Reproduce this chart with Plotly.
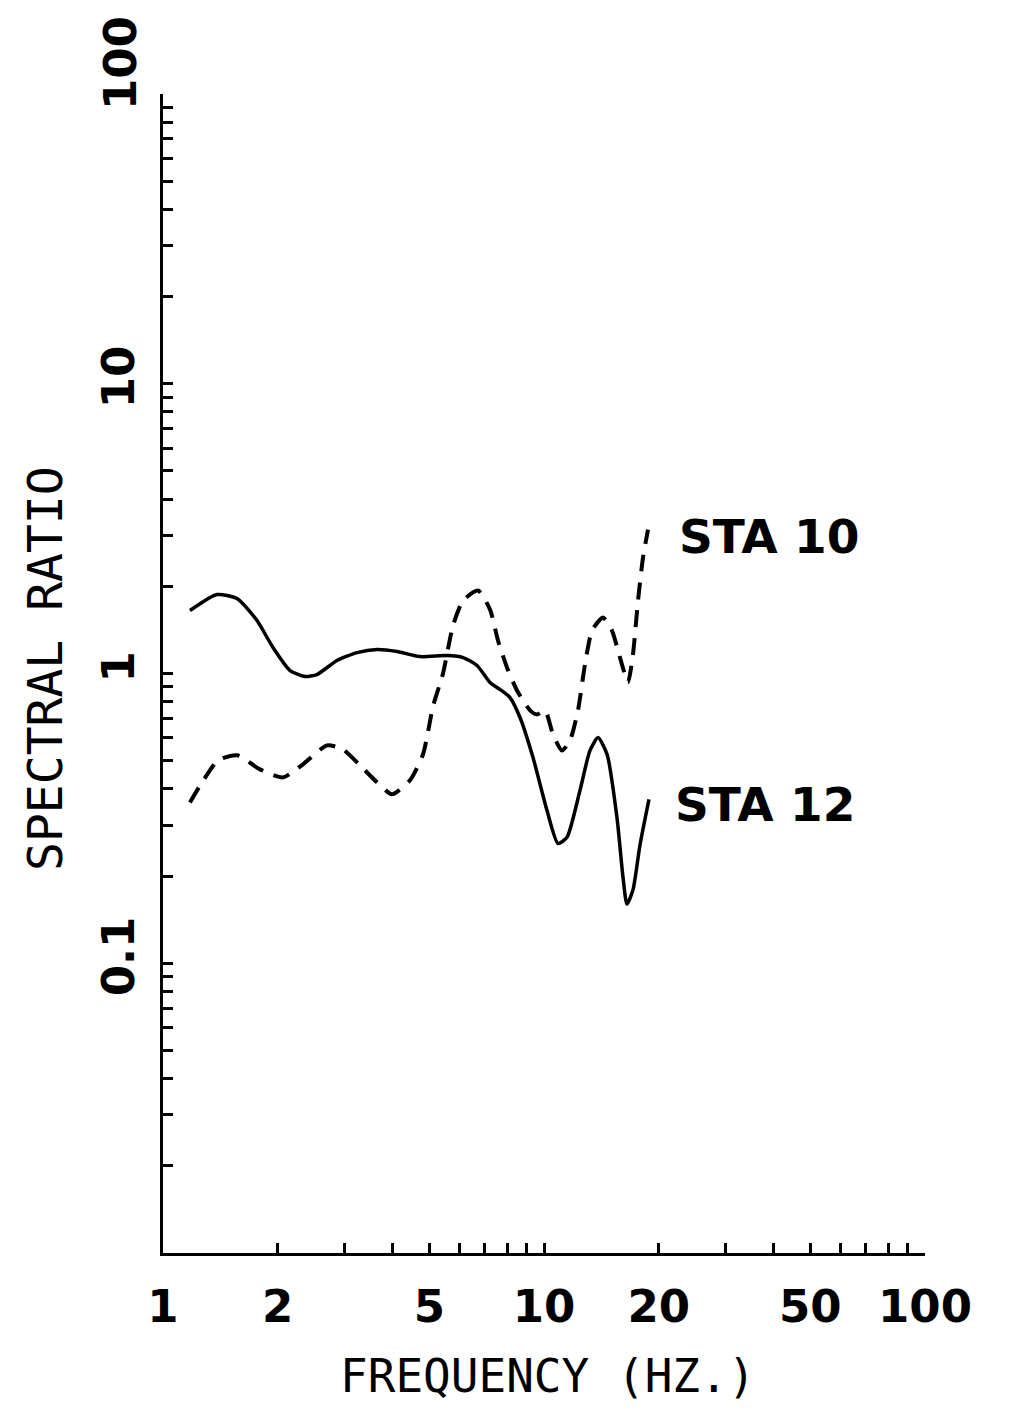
import plotly.graph_objects as go

# STA 12 (solid)
sta12_f = [1.177, 1.386, 1.564, 1.765, 1.944, 2.154, 2.358, 2.536, 2.862, 3.230, 3.645, 4.114,
           4.727, 5.565, 6.131, 6.672, 7.216, 7.664, 8.142, 8.650, 9.357, 10.18, 10.88, 11.49,
           12.43, 13.20, 13.86, 14.64, 15.54, 16.12, 16.51, 17.12, 17.87, 18.86]
sta12_v = [1.649, 1.873, 1.814, 1.523, 1.229, 1.024, 0.976, 0.992, 1.109, 1.181, 1.210, 1.191,
           1.144, 1.153, 1.135, 1.066, 0.931, 0.881, 0.826, 0.705, 0.513, 0.337, 0.259, 0.272,
           0.395, 0.542, 0.601, 0.526, 0.319, 0.198, 0.160, 0.179, 0.257, 0.368]

# STA 10 (dashed)
sta10_f = [1.177, 1.266, 1.394, 1.564, 1.797, 2.065, 2.330, 2.694, 2.968, 3.289, 3.645, 3.990,
           4.449, 4.813, 5.113, 5.432, 5.770, 6.131, 6.712, 7.216, 7.572, 7.996, 8.494, 9.191,
           9.585, 10.06, 10.56, 11.15, 11.70, 12.28, 12.81, 13.37, 14.28, 15.08, 15.83, 16.61,
           17.12, 17.65, 18.19, 18.75]
sta10_v = [0.359, 0.421, 0.501, 0.522, 0.467, 0.438, 0.486, 0.565, 0.547, 0.482, 0.421, 0.383,
           0.428, 0.526, 0.770, 1.000, 1.464, 1.785, 1.933, 1.663, 1.300, 1.049, 0.874, 0.746,
           0.722, 0.746, 0.616, 0.542, 0.587, 0.746, 1.074, 1.407, 1.560, 1.407, 1.135, 0.931,
           1.163, 1.785, 2.512, 3.138]

x_tick_vals = [1, 2, 3, 4, 5, 6, 7, 8, 9, 10, 20, 30, 40, 50, 60, 70, 80, 90, 100]
x_tick_text = ["1", "2", "", "", "5", "", "", "", "", "10", "20", "", "", "50", "", "", "", "", "100"]

y_tick_vals = [m * 10 ** e for e in (-2, -1, 0, 1) for m in range(1, 10)] + [100]
y_label_map = {0.1: "0.1", 1: "1", 10: "10"}
y_tick_text = [y_label_map.get(round(v, 6), "") for v in y_tick_vals]

fig = go.Figure()
fig.add_trace(go.Scatter(x=sta12_f, y=sta12_v, mode="lines",
                         line=dict(color="black", width=3.5, shape="spline", smoothing=0.6),
                         showlegend=False))
fig.add_trace(go.Scatter(x=sta10_f, y=sta10_v, mode="lines",
                         line=dict(color="black", width=4, dash="17px,11px", shape="spline", smoothing=0.6),
                         showlegend=False))

tickfont = dict(family="DejaVu Sans", size=45, color="black", weight="bold")

fig.update_layout(
    width=995, height=1398,
    margin=dict(l=155, r=78, t=86, b=153),
    paper_bgcolor="white", plot_bgcolor="white",
    xaxis=dict(type="log", range=[0, 2], showgrid=False, zeroline=False,
               showline=True, linecolor="black", linewidth=3,
               ticks="inside", ticklen=10, tickwidth=2.5, tickcolor="black",
               tickvals=x_tick_vals, ticktext=x_tick_text, tickfont=tickfont,
               ticklabelstandoff=12),
    yaxis=dict(type="log", range=[-2, 2], showgrid=False, zeroline=False,
               showline=True, linecolor="black", linewidth=3,
               ticks="inside", ticklen=10, tickwidth=2.5, tickcolor="black",
               tickvals=y_tick_vals, ticktext=y_tick_text, tickfont=tickfont,
               tickangle=-90, ticklabelstandoff=8),
)

annfont = dict(family="DejaVu Sans", size=47, color="black", weight="bold")
fig.add_annotation(text="100", xref="paper", yref="paper", x=-0.056, y=1.027,
                   xanchor="center", yanchor="middle", textangle=-90, showarrow=False,
                   font=tickfont)
fig.add_annotation(text="STA 10", xref="paper", yref="paper", x=0.674, y=0.6186,
                   xanchor="left", yanchor="middle", showarrow=False, font=annfont)
fig.add_annotation(text="STA 12", xref="paper", yref="paper", x=0.669, y=0.3874,
                   xanchor="left", yanchor="middle", showarrow=False, font=annfont)

titlefont = dict(family="DejaVu Sans Mono", size=46, color="black")
fig.add_annotation(text="FREQUENCY (HZ.)", xref="paper", yref="paper", x=0.504, y=-0.106,
                   xanchor="center", yanchor="middle", showarrow=False, font=titlefont)
fig.add_annotation(text="SPECTRAL RATIO", xref="paper", yref="paper", x=-0.155, y=0.5047,
                   xanchor="center", yanchor="middle", textangle=-90, showarrow=False,
                   font=dict(family="DejaVu Sans Mono", size=48, color="black"))

fig.write_html("out.html")
